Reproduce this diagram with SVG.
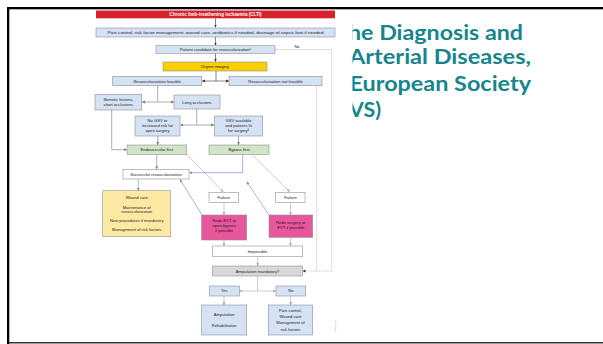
<svg xmlns="http://www.w3.org/2000/svg" width="603" height="344" viewBox="0 0 603 344">
<style>
.bx{stroke:#8d929b;stroke-width:0.6}
.bl{fill:#d4e2f4}.gr{fill:#d2e5c4}.wh{fill:#fff}.pk{fill:#e8579b}.yl{fill:#fbd000}.ly{fill:#fde9a4}.gy{fill:#d8d8d8}
.t{font-family:"Liberation Sans",Arial,sans-serif;font-size:4.1px;fill:#1a1a1a;text-anchor:middle}
.c{fill:none;stroke-width:0.6}
.k{stroke:#333}.m{stroke:#777}.s{stroke:#a8a8b8}.u{stroke:#6a82c8}
.d{fill:none;stroke:#999;stroke-width:0.6;stroke-dasharray:0.8 0.8}
.ttl{font-family:Lato,"Open Sans",sans-serif;font-weight:bold;font-size:21.5px;fill:#16868c}
</style>
<defs>
<marker id="ak" markerUnits="userSpaceOnUse" markerWidth="4" markerHeight="4" refX="3" refY="2" orient="auto"><path d="M0,0.6L3,2L0,3.4z" fill="#333"/></marker>
<marker id="am" markerUnits="userSpaceOnUse" markerWidth="4" markerHeight="4" refX="3" refY="2" orient="auto"><path d="M0,0.6L3,2L0,3.4z" fill="#777"/></marker>
<marker id="as" markerUnits="userSpaceOnUse" markerWidth="4" markerHeight="4" refX="3" refY="2" orient="auto"><path d="M0,0.6L3,2L0,3.4z" fill="#a8a8b8"/></marker>
<marker id="au" markerUnits="userSpaceOnUse" markerWidth="4" markerHeight="4" refX="3" refY="2" orient="auto"><path d="M0,0.6L3,2L0,3.4z" fill="#6a82c8"/></marker>
<clipPath id="clip"><rect x="352.5" y="0" width="251" height="344"/></clipPath>
</defs>
<rect width="603" height="344" fill="#fff"/>
<g id="frame">
<rect x="7" y="7" width="596" height="2.3" fill="#000"/>
<rect x="7" y="7" width="2.3" height="337" fill="#000"/>
<rect x="7" y="342.2" width="596" height="1.2" fill="#000"/>
</g>
<g id="title" clip-path="url(#clip)">
<text class="ttl" x="348" y="40" textLength="175" lengthAdjust="spacingAndGlyphs">he Diagnosis and</text>
<text class="ttl" x="349" y="64.3" textLength="182" lengthAdjust="spacingAndGlyphs">Arterial Diseases,</text>
<text class="ttl" x="349.5" y="90.7" textLength="181.5" lengthAdjust="spacingAndGlyphs">European Society</text>
<text class="ttl" x="349" y="117.3" textLength="32" lengthAdjust="spacingAndGlyphs">VS)</text>
</g>
<g id="connectors">
<path class="c k" d="M215.5,18.3V27.5" marker-end="url(#ak)"/>
<path class="c k" d="M215.5,37V45.5" marker-end="url(#ak)"/>
<path class="c k" d="M215.5,53.3V61.8" marker-end="url(#ak)"/>
<path class="c k" d="M216,71V81"/>
<path class="c k" d="M216,81H202" marker-end="url(#ak)"/>
<path class="c k" d="M216,81H229" marker-end="url(#ak)"/>
<path class="c m" d="M157.7,85.7V102"/>
<path class="c m" d="M157.7,102H142" marker-end="url(#am)"/>
<path class="c m" d="M157.7,102H174" marker-end="url(#am)"/>
<path class="c m" d="M196.7,109V125"/>
<path class="c m" d="M196.7,125H180.3" marker-end="url(#am)"/>
<path class="c m" d="M196.7,125H214.2" marker-end="url(#am)"/>
<path class="c m" d="M157.7,136V145" marker-end="url(#am)"/>
<path class="c m" d="M238.5,136V145" marker-end="url(#am)"/>
<path class="c m" d="M111.7,110V149.7H127" marker-end="url(#am)"/>
<path class="c u" d="M156.7,154.3V169.3" marker-end="url(#au)"/>
<path class="c u" d="M242.7,154.3V172.7H189.3" marker-end="url(#au)"/>
<path class="c s" d="M187,154.5L223.3,192" marker-end="url(#as)"/>
<path class="c s" d="M252,154.5L290,192" marker-end="url(#as)"/>
<path class="c s" d="M224,202.3V215" marker-end="url(#as)"/>
<path class="c s" d="M290.5,202.3V215" marker-end="url(#as)"/>
<path class="c u" d="M202,215L180,179.5" marker-end="url(#au)"/>
<path class="c u" d="M269,215L246.7,181.5" marker-end="url(#au)"/>
<path class="c u" d="M138.3,179V190.7" marker-end="url(#au)"/>
<path class="c s" d="M224,240V246" marker-end="url(#as)"/>
<path class="c s" d="M290.5,237.3V246" marker-end="url(#as)"/>
<path class="c s" d="M257.7,256.7V266" marker-end="url(#as)"/>
<path class="c s" d="M257.7,276V291"/>
<path class="c s" d="M257.7,291H239.3" marker-end="url(#as)"/>
<path class="c s" d="M257.7,291H276" marker-end="url(#as)"/>
<path class="c s" d="M224,296V305" marker-end="url(#as)"/>
<path class="c s" d="M290.7,296V305" marker-end="url(#as)"/>
<path class="d" d="M275,49.5H331.5V271H302.5" marker-end="url(#ak)"/>
<path class="d" d="M316.7,85.7V271"/>
<text class="t" x="297" y="47.8" font-size="3.8">No</text>
</g>
<g id="n-clti"><rect x="96" y="10.5" width="239" height="7.8" fill="#d7222e"/><text class="t" x="215.5" y="15.9" style="fill:#fff;font-weight:bold;font-size:4.6px">Chronic limb-treathening ischaemia (CLTI)</text></g>
<g id="n-pain"><rect class="bx bl" x="96" y="28" width="239" height="9"/><text class="t" x="215.5" y="34" textLength="216" lengthAdjust="spacingAndGlyphs">Pain control, risk factor management, wound care, antibiotics if needed, drainage of sepsic foot if needed</text></g>
<g id="n-cand"><rect class="bx bl" x="156" y="45.7" width="119" height="7.6"/><text class="t" x="215.5" y="51">Patient candidate for revascularization¹</text></g>
<g id="n-img"><rect class="bx yl" x="163" y="62" width="104" height="9"/><text class="t" x="215" y="68">Urgent imaging</text></g>
<g id="n-feas"><rect class="bx bl" x="112.7" y="76.3" width="89" height="9.4"/><text class="t" x="157.2" y="82.5">Revascularization feasible</text></g>
<g id="n-notfeas"><rect class="bx bl" x="229" y="76.3" width="93" height="9.4"/><text class="t" x="275.5" y="82.5">Revascularization not feasible</text></g>
<g id="n-sten"><rect class="bx bl" x="95" y="94.3" width="46.7" height="15.7"/><text class="t" x="118.3" y="101">Stenotic lesions,</text><text class="t" x="118.3" y="106.3">short occlusions</text></g>
<g id="n-long"><rect class="bx bl" x="174" y="95" width="46" height="14"/><text class="t" x="197" y="103.5">Long occlusions</text></g>
<g id="n-nogsv"><rect class="bx bl" x="135" y="116" width="45" height="20"/><text class="t" x="157.5" y="121.6">No GSV or</text><text class="t" x="157.5" y="126.6">increased risk for</text><text class="t" x="157.5" y="131.6">open surgery</text></g>
<g id="n-gsv"><rect class="bx bl" x="214.3" y="116" width="48.4" height="20"/><text class="t" x="238.5" y="121.6">GSV available</text><text class="t" x="238.5" y="126.6">and patients fit</text><text class="t" x="238.5" y="131.6">for surgery²</text></g>
<g id="n-endo"><rect class="bx gr" x="127" y="145" width="59.7" height="9.3"/><text class="t" x="156.8" y="151.2">Endovascular first</text></g>
<g id="n-bypass"><rect class="bx gr" x="209" y="145" width="60" height="9.3"/><text class="t" x="239" y="151.2">Bypass first</text></g>
<g id="n-succ"><rect class="bx wh" x="123" y="169.3" width="66" height="9.7"/><text class="t" x="156" y="175.7">Successful revascularization</text></g>
<g id="n-wound"><rect class="bx ly" x="102.7" y="190.7" width="68" height="46"/><text class="t" x="136.7" y="198.8">Wound care</text><text class="t" x="136.7" y="208.6">Maintenance of</text><text class="t" x="136.7" y="213.1">revascularization</text><text class="t" x="136.7" y="222.4">New procedures if mandatory</text><text class="t" x="136.7" y="231.4">Management of risk factors</text></g>
<g id="n-fail1"><rect class="bx wh" x="209" y="192.3" width="29.3" height="10"/><text class="t" x="223.7" y="198.8">Failure</text></g>
<g id="n-fail2"><rect class="bx wh" x="275.7" y="192.3" width="29.3" height="10"/><text class="t" x="290.4" y="198.8">Failure</text></g>
<g id="n-redoevt"><rect class="bx pk" x="201.7" y="215" width="45" height="25"/><text class="t" x="224.2" y="222.4">Redo-EVT or</text><text class="t" x="224.2" y="227.3">open bypass</text><text class="t" x="224.2" y="232">if possible</text></g>
<g id="n-redosurg"><rect class="bx pk" x="269" y="215" width="43.7" height="22.3"/><text class="t" x="290.8" y="224">Redo surgery or</text><text class="t" x="290.8" y="228.8">EVT if possible</text></g>
<g id="n-imposs"><rect class="bx wh" x="212.7" y="246" width="89.6" height="10.7"/><text class="t" x="257.5" y="252.8">Impossible</text></g>
<g id="n-ampm"><rect class="bx gy" x="212.7" y="266" width="89.6" height="10"/><text class="t" x="257.5" y="272.5">Amputation mandatory?</text></g>
<g id="n-yes"><rect class="bx bl" x="209.3" y="286" width="30" height="10"/><text class="t" x="224.3" y="292.4">Yes</text></g>
<g id="n-no"><rect class="bx bl" x="276" y="286" width="29.7" height="10"/><text class="t" x="290.8" y="292.4">No</text></g>
<g id="n-amp"><rect class="bx bl" x="201.7" y="305" width="45" height="30"/><text class="t" x="224.2" y="315.8">Amputation</text><text class="t" x="224.2" y="327.4">Rehabilitation</text></g>
<g id="n-pc"><rect class="bx bl" x="268.3" y="305" width="44.4" height="30"/><text class="t" x="290.5" y="311.6">Pain control,</text><text class="t" x="290.5" y="318">Wound care</text><text class="t" x="290.5" y="324.4">Management of</text><text class="t" x="290.5" y="330.6">risk factors</text></g>
<text class="t" transform="translate(335.5,326) rotate(-90)" style="font-size:2.4px;fill:#888">©ESC 2017</text>
</svg>
